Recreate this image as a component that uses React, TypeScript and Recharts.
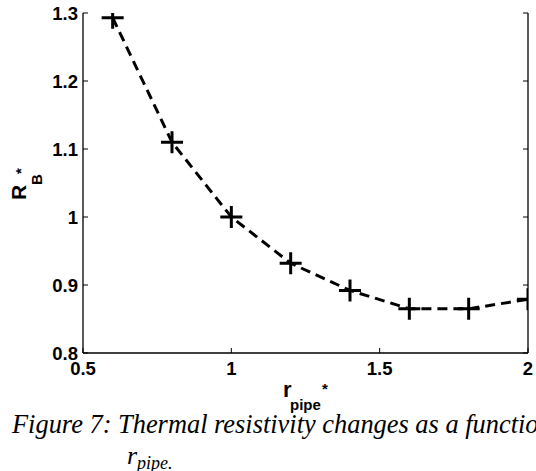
import React from 'react';
import { LineChart, Line, XAxis, YAxis } from 'recharts';

const rPipe = [0.6, 0.8, 1.0, 1.2, 1.4, 1.6, 1.8, 2.0];
const rB = [1.293, 1.11, 1.0, 0.932, 0.892, 0.865, 0.865, 0.879];
const xTicks = [0.5, 1, 1.5, 2];
const yTicks = [0.8, 0.9, 1, 1.1, 1.2, 1.3];
const xTickLabels = ['0.5', '1', '1.5', '2'];
const yTickLabels = ['0.8', '0.9', '1', '1.1', '1.2', '1.3'];

const data = rPipe.map((x, i) => ({ x, y: rB[i] }));

const SANS = '"Liberation Sans", Arial, sans-serif';
const SERIF = '"Liberation Serif", "Times New Roman", serif';
const TICK_LEN = 5;

const BottomTick = (props: any) => {
  const { x, y, payload } = props;
  const i = xTicks.indexOf(payload.value);
  return (
    <g>
      <line x1={x} y1={y} x2={x} y2={y - TICK_LEN} stroke="#000" strokeWidth={1} />
      <text x={x} y={y + 22} textAnchor="middle" fontFamily={SANS} fontWeight="bold" fontSize={18.5} fill="#000">
        {i >= 0 ? xTickLabels[i] : payload.value}
      </text>
    </g>
  );
};

const TopTick = (props: any) => {
  const { x, y } = props;
  return <line x1={x} y1={y} x2={x} y2={y + TICK_LEN} stroke="#000" strokeWidth={1} />;
};

const LeftTick = (props: any) => {
  const { x, y, payload } = props;
  const i = yTicks.indexOf(payload.value);
  return (
    <g>
      <line x1={x} y1={y} x2={x + TICK_LEN} y2={y} stroke="#000" strokeWidth={1} />
      <text x={x - 5} y={y + 6.5} textAnchor="end" fontFamily={SANS} fontWeight="bold" fontSize={18.5} fill="#000">
        {i >= 0 ? yTickLabels[i] : payload.value}
      </text>
    </g>
  );
};

const RightTick = (props: any) => {
  const { x, y } = props;
  return <line x1={x} y1={y} x2={x - TICK_LEN} y2={y} stroke="#000" strokeWidth={1} />;
};

const PlusDot = (props: any) => {
  const { cx, cy, index } = props;
  if (cx == null || cy == null) return <g key={index} />;
  const s = 11;
  return (
    <path
      key={index}
      d={`M${cx - s},${cy}H${cx + s}M${cx},${cy - s}V${cy + s}`}
      stroke="#000"
      strokeWidth={3}
      fill="none"
    />
  );
};

const axisLine = { stroke: '#000', strokeWidth: 1.3 };

export default function App() {
  return (
    <div style={{ position: 'absolute', left: 0, top: 0, width: 536, height: 471, background: '#fff', overflow: 'hidden' }}>
      <LineChart width={536} height={471} data={data} margin={{ top: 13, right: 7, bottom: 88, left: 0 }}>
        <XAxis
          xAxisId="b"
          dataKey="x"
          type="number"
          domain={[0.5, 2]}
          ticks={xTicks}
          interval={0}
          height={30}
          tickSize={0}
          tickMargin={0}
          tickLine={false}
          axisLine={axisLine}
          tick={<BottomTick />}
          allowDataOverflow
        />
        <XAxis
          xAxisId="t"
          orientation="top"
          dataKey="x"
          type="number"
          domain={[0.5, 2]}
          ticks={xTicks}
          interval={0}
          height={0}
          tickSize={0}
          tickMargin={0}
          tickLine={false}
          axisLine={axisLine}
          tick={<TopTick />}
          allowDataOverflow
        />
        <YAxis
          yAxisId="l"
          type="number"
          domain={[0.8, 1.3]}
          ticks={yTicks}
          interval={0}
          width={83}
          tickSize={0}
          tickMargin={0}
          tickLine={false}
          axisLine={axisLine}
          tick={<LeftTick />}
          allowDataOverflow
        />
        <YAxis
          yAxisId="r"
          orientation="right"
          type="number"
          domain={[0.8, 1.3]}
          ticks={yTicks}
          interval={0}
          width={1}
          tickSize={0}
          tickMargin={0}
          tickLine={false}
          axisLine={axisLine}
          tick={<RightTick />}
          allowDataOverflow
        />
        <Line
          xAxisId="b"
          yAxisId="l"
          dataKey="y"
          type="linear"
          stroke="#000"
          strokeWidth={3}
          strokeDasharray="10 6"
          dot={PlusDot}
          activeDot={false}
          isAnimationActive={false}
        />
      </LineChart>
      <svg
        width={536}
        height={471}
        style={{ position: 'absolute', left: 0, top: 0, pointerEvents: 'none' }}
      >
        {/* x axis label */}
        <text x={283} y={397} fontFamily={SANS} fontWeight="bold" fontSize={22} fill="#000">r</text>
        <text x={290} y={410} fontFamily={SANS} fontWeight="bold" fontSize={15} fill="#000">pipe</text>
        <text x={322} y={394} fontFamily={SANS} fontWeight="bold" fontSize={15} fill="#000">*</text>
        {/* y axis label */}
        <text transform="translate(26,200) rotate(-90)" fontFamily={SANS} fontWeight="bold" fontSize={21} fill="#000">R</text>
        <text transform="translate(42,185) rotate(-90)" fontFamily={SANS} fontWeight="bold" fontSize={15} fill="#000">B</text>
        <text transform="translate(26,174) rotate(-90)" fontFamily={SANS} fontWeight="bold" fontSize={15} fill="#000">*</text>
        {/* caption */}
        <text x={12} y={433} fontFamily={SERIF} fontStyle="italic" fontSize={26.4} fill="#000">
          Figure 7: Thermal resistivity changes as a function of
        </text>
        <text x={127} y={464} fontFamily={SERIF} fontStyle="italic" fontSize={26} fill="#000">r</text>
        <text x={137} y={469} fontFamily={SERIF} fontStyle="italic" fontSize={18} fill="#000">pipe.</text>
      </svg>
    </div>
  );
}
